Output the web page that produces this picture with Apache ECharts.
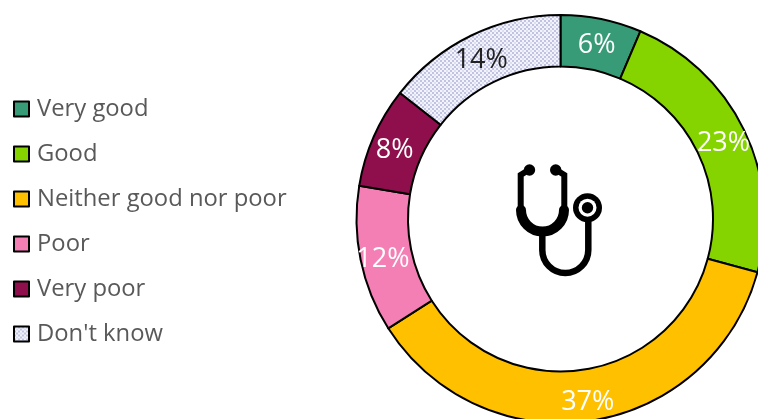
<!DOCTYPE html>
<html><head><meta charset="utf-8">
<style>html,body{margin:0;padding:0;background:#fff;overflow:hidden}#c{width:758px;height:419px}</style>
<script src="https://cdn.jsdelivr.net/npm/echarts@6/dist/echarts.min.js"></script>
</head><body><div id="c"></div>
<script>
const categories = ["Very good","Good","Neither good nor poor","Poor","Very poor","Don't know"];
const values = [6.4,22.8,36.8,11.6,8.0,14.4];
const colors = ["#389B77","#85D400","#FFC000","#F47FB4","#8E0F4B",null];
const labelColors = ["#fff","#fff","#fff","#fff","#fff","#222"];

function hatch(){
  const n=8,c=document.createElement('canvas');c.width=n;c.height=n;
  const g=c.getContext('2d');g.fillStyle='#f3f3fb';g.fillRect(0,0,n,n);
  g.fillStyle='#c0c4e2';
  for(let y=0;y<n;y+=2)for(let x=0;x<n;x+=2){
    if(((x+y)/2)%2===0) g.fillRect(x,y,2,2);
  }
  g.fillStyle='#dcdef0';g.fillRect(2,2,2,2);g.fillRect(6,6,2,2);
  return {image:c,repeat:'repeat'};
}
const pattern=hatch();
const chart=echarts.init(document.getElementById('c'),null,{renderer:'canvas'});
const ui='"Open Sans","Noto Sans",sans-serif';
const S={fill:null,stroke:'#000',lineWidth:6,lineCap:'round'};
chart.setOption({
  animation:false,
  legend:{
    orient:'vertical',left:8,top:92,itemWidth:15,itemHeight:15,itemGap:21,
    icon:'rect',selectedMode:false,
    itemStyle:{borderColor:'#000',borderWidth:2},
    textStyle:{fontFamily:ui,fontSize:23.8,color:'#595959',padding:[0,0,0,3]},
    data:categories
  },
  series:[{
    type:'pie',center:[560.5,219],radius:[152.5,204],startAngle:90,clockwise:true,
    itemStyle:{borderColor:'#000',borderWidth:2},
    label:{position:'inside',fontFamily:ui,fontSize:27,
      formatter:p=>Math.round(p.value)+'%',offset:[0,4]},
    labelLine:{show:false},emphasis:{disabled:true},
    data:categories.map((n,i)=>({name:n,value:values[i],
      itemStyle:{color:colors[i]||pattern},
      label:{color:labelColors[i]}}))
  }],
  graphic:[
    {type:'polyline',shape:{points:[[527,171],[520.7,175],[520.7,210]]},style:S},
    {type:'polyline',shape:{points:[[558,171],[564.3,175],[564.3,210]]},style:S},
    {type:'circle',shape:{cx:529.5,cy:170,r:5.7},style:{fill:'#000'}},
    {type:'circle',shape:{cx:555.7,cy:170,r:5.7},style:{fill:'#000'}},
    {type:'arc',shape:{cx:542.5,cy:210,r:21.5,startAngle:0,endAngle:Math.PI,clockwise:true},style:{fill:null,stroke:'#000',lineWidth:10,lineCap:'round'}},
    {type:'polyline',shape:{points:[[542.3,235],[542.3,250]]},style:{fill:null,stroke:'#000',lineWidth:6.5}},
    {type:'arc',shape:{cx:565.3,cy:250,r:23,startAngle:0,endAngle:Math.PI,clockwise:true},style:{fill:null,stroke:'#000',lineWidth:6.5}},
    {type:'polyline',shape:{points:[[588.3,250],[588.3,215]]},style:{fill:null,stroke:'#000',lineWidth:6.5}},
    {type:'circle',shape:{cx:587.5,cy:207.7,r:14.5},style:{fill:'#000'}},
    {type:'circle',shape:{cx:587.5,cy:207.7,r:9},style:{fill:'#fff'}},
    {type:'circle',shape:{cx:587.5,cy:207.7,r:5.7},style:{fill:'#000'}}
  ]
});
</script></body></html>
